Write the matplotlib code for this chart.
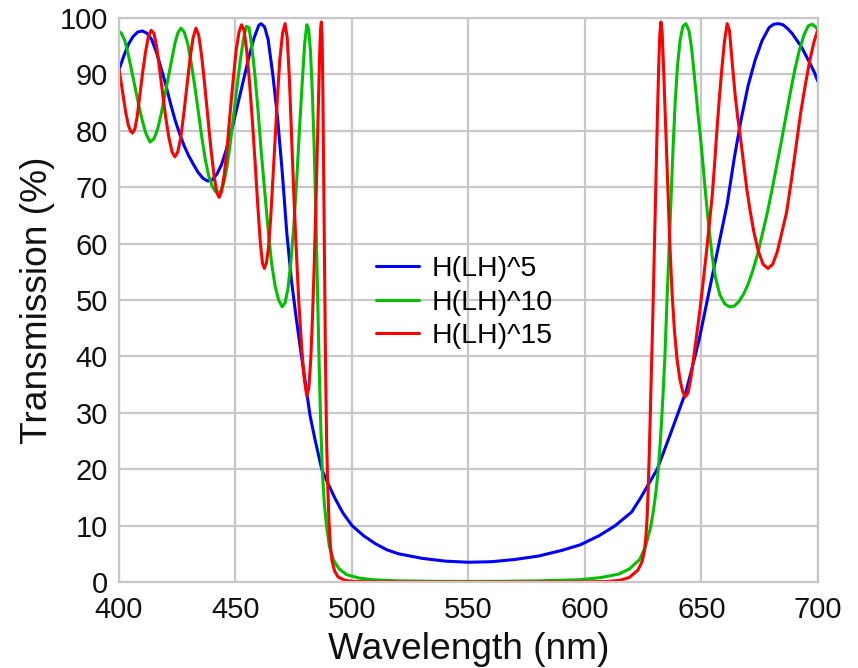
import matplotlib
matplotlib.use("Agg")
import matplotlib.pyplot as plt

plt.rcParams['font.family'] = ['Liberation Sans', 'DejaVu Sans']

# ---------------- data ----------------
series_labels = ["H(LH)^5", "H(LH)^10", "H(LH)^15"]
x_ticks = [400, 450, 500, 550, 600, 650, 700]
y_ticks = [0, 10, 20, 30, 40, 50, 60, 70, 80, 90, 100]

# (wavelength nm, transmission %)
blue_points = [
    (400, 90.8), (402, 93.2), (404, 95.3), (406, 96.7), (408, 97.5), (410, 97.7),
    (412, 97.3), (414, 96.2), (416, 94), (418, 91.2), (420, 88.3), (422, 85),
    (424, 82), (426, 79.5), (428, 77.3), (430, 75.5), (432, 74), (434, 72.6),
    (436, 71.6), (438, 71.1), (440, 71.3), (442, 72.3), (444, 74), (446, 76.6),
    (448, 79.5), (450, 83), (452, 86.5), (454, 90), (456, 93.5), (458, 96.5),
    (460, 98.7), (461, 99), (462.5, 98.4), (464, 96.2), (466, 90), (468, 82.5),
    (470, 73), (472, 62), (474, 53.5), (476, 47), (478, 41), (480.6, 33.5),
    (482, 29.5), (484, 25.5), (487, 20), (490, 17.2), (492.5, 15), (496, 12.3),
    (500, 10), (505, 8.2), (510, 6.8), (515, 5.7), (520, 5.0), (530, 4.2),
    (540, 3.7), (550, 3.5), (560, 3.6), (570, 4.0), (580, 4.6), (590, 5.6),
    (598, 6.6), (606, 8.2), (613, 10), (620, 12.4), (624, 15), (631, 20),
    (636, 25.5), (640, 30), (643.5, 34), (646, 38), (649, 43), (651.5, 48),
    (654, 53), (656, 57), (658, 61), (661, 67), (664, 75), (667, 82), (670, 88),
    (673, 92.5), (676, 96), (679, 98.3), (681, 98.9), (683, 99), (685, 98.8),
    (687, 98.1), (689, 97.2), (691, 96), (693, 94.8), (695, 93.2), (697, 91.6),
    (698.5, 90.3), (700, 88.7),
]

green_points = [
    (400, 97.6), (401, 97.3), (402.5, 96), (404, 93.5), (405.5, 90.5), (407, 87.5),
    (408.5, 84.5), (410, 81.8), (411.5, 79.6), (413.3, 78), (415, 78.6),
    (416.5, 80.2), (418, 82.8), (419.5, 86), (421, 89.3), (422.5, 92.5),
    (424, 95.5), (425.3, 97.4), (426.6, 98.2), (428, 97.5), (429.5, 95.5),
    (431, 92), (432.5, 88), (434, 83.5), (435.5, 79), (437, 75), (438.5, 72),
    (440, 70.2), (441.3, 69.3), (442.5, 69), (443.8, 69.4), (445, 70.8),
    (446.3, 73.5), (447.6, 77.3), (449, 82), (450.5, 87.3), (452, 92.3),
    (453.3, 96), (454.6, 98.5), (455.8, 98.3), (457, 95), (458.3, 90),
    (459.7, 83.5), (461, 76.5), (462.5, 69.5), (464, 62.5), (465.5, 56.5),
    (467, 52.5), (468.5, 50), (470, 48.8), (471.3, 49.5), (472.5, 52),
    (473.7, 56.5), (475, 63), (476.3, 71.5), (477.5, 80.5), (478.7, 89),
    (479.7, 95.5), (480.6, 98.8), (481.4, 98), (482.2, 94), (483, 86.5),
    (483.8, 76.5), (484.5, 65), (485.2, 51.5), (485.9, 38.5), (486.6, 27.5),
    (487.3, 19.5), (488.1, 14), (489.1, 9.8), (490.3, 6.3), (492, 3.9),
    (494.5, 2.3), (497.7, 1.3), (503, 0.7), (509, 0.4), (520, 0.2), (535, 0.12),
    (550, 0.1), (565, 0.12), (580, 0.2), (598, 0.4), (607, 0.8), (614.5, 1.4),
    (619, 2.3), (623.5, 4), (626, 6.3), (628.2, 9.8), (629.2, 12.2),
    (630.3, 15.5), (631.5, 20), (632.5, 26), (633.4, 32.5), (634.3, 40),
    (635.1, 49), (636, 58.5), (636.9, 68), (637.8, 77), (638.7, 85),
    (639.7, 91.5), (640.8, 96), (642, 98.5), (643.3, 99), (644.6, 97.8),
    (645.8, 94.5), (647, 89.5), (648.5, 83), (650, 77), (651.5, 70),
    (653, 63.5), (654.5, 58), (656, 54), (657.8, 51), (660, 49.3), (662, 48.8),
    (664, 48.9), (666, 49.7), (668, 51), (670, 52.8), (672, 55.2), (674, 58),
    (676, 61.5), (678, 65), (680, 69), (682, 73.2), (684, 77.5), (686, 82),
    (688, 86.5), (690, 90.7), (692, 94.3), (694, 97), (695.8, 98.6),
    (697.5, 98.9), (699, 98.4), (700, 97.8),
]

red_points = [
    (400, 91), (401, 88.3), (402, 85.5), (403, 83), (404, 81), (405, 79.9),
    (405.8, 79.6), (406.8, 80.3), (407.8, 82.5), (409, 86.5), (410.2, 90.5),
    (411.4, 94), (412.6, 96.7), (413.8, 97.8), (415, 97.3), (416.2, 94.8),
    (417.4, 91), (418.6, 87), (420, 82.5), (421.4, 78.8), (422.8, 76.2),
    (424, 75.4), (425.2, 76.2), (426.5, 78.8), (427.8, 83), (429.2, 88),
    (430.5, 92.8), (431.8, 96.5), (433, 98.2), (434.2, 97), (435.4, 93.5),
    (436.7, 88.5), (438, 83), (439.4, 77), (440.8, 72), (442, 69), (443, 68.2),
    (444, 69.2), (445.2, 72.3), (446.4, 77), (447.7, 83.2), (449, 89),
    (450.3, 94.3), (451.5, 97.5), (452.6, 98.8), (453.7, 97.8), (454.8, 94.2),
    (456, 88.7), (457.2, 82), (458.4, 74.5), (459.6, 66.5), (460.7, 60),
    (461.6, 56.5), (462.4, 55.6), (463.3, 56.6), (464.2, 59.5), (465.1, 64.5),
    (466, 71), (467, 78.5), (468, 86), (469, 92.5), (470.2, 97.3), (471.3, 99),
    (472.2, 96.5), (473.1, 89.5), (474, 80), (474.9, 70), (476, 59.5),
    (477.2, 49.5), (478.4, 41.5), (479.5, 36), (480.6, 33), (481.5, 34.5),
    (482.3, 39.5), (483, 46.5), (483.7, 55), (484.4, 65), (485, 75),
    (485.6, 85), (486.1, 93.5), (486.5, 98), (486.85, 99.3), (487.2, 96),
    (487.5, 87), (487.85, 72), (488.2, 55), (488.6, 40), (489.1, 25),
    (489.6, 17), (490.1, 11), (490.7, 6.5), (491.4, 3.8), (492.5, 2), (494, 0.9),
    (497, 0.3), (500.5, 0.1), (510, 0.03), (550, 0.0), (600, 0.03), (610, 0.1),
    (615, 0.3), (619, 0.8), (622.7, 2.1), (624.5, 3.6), (625.5, 5.5),
    (626.1, 7.8), (626.6, 11), (627.1, 16), (627.6, 23), (628.1, 31),
    (628.6, 39), (629.1, 47), (629.6, 56), (630.1, 65), (630.6, 74),
    (631.1, 83), (631.6, 91), (632.1, 97), (632.6, 99.3), (633.1, 97.5),
    (633.6, 92.5), (634.2, 85.5), (634.9, 77), (635.7, 67.5), (636.5, 59),
    (637.4, 51), (638.4, 44.5), (639.5, 39.5), (640.7, 36), (641.9, 33.8),
    (643, 32.8), (644.2, 33.5), (645.4, 36), (646.7, 40), (648, 44),
    (649.4, 48.5), (650.8, 53.5), (652.2, 58.8), (653.5, 64), (654.6, 68.5),
    (655.6, 74), (656.6, 80), (657.7, 86), (658.8, 91.3), (659.9, 96),
    (661, 99), (662, 97.8), (663.2, 92), (664.4, 86.5), (665.5, 82.5),
    (666.5, 79.5), (668, 74.5), (669.5, 69.5), (670.8, 66), (672.5, 62),
    (674.5, 58.5), (676.5, 56.3), (678.5, 55.6), (680.5, 56.3), (682.5, 58.5),
    (684.5, 62), (686.5, 65.5), (688.5, 71), (690.5, 77), (692.5, 83),
    (694.5, 88), (696.5, 92.5), (698.3, 95.8), (700, 98),
]

colors = ["#0000ff", "#00c000", "#ff0000"]

# ---------------- figure ----------------
fig = plt.figure(figsize=(8.58, 6.68), dpi=100)
ax = fig.add_axes([119 / 858, 1 - 582 / 668, (818 - 119) / 858, (582 - 18) / 668])

for pts, c, lab in zip([blue_points, green_points, red_points], colors, series_labels):
    wl, t = zip(*pts)
    ax.plot(wl, t, color=c, lw=2.2, label=lab, solid_joinstyle='round',
            solid_capstyle='round')

ax.set_xlim(400, 700)
ax.set_ylim(0, 100)
ax.set_xticks(x_ticks)
ax.set_yticks(y_ticks)
ax.grid(True, color='#c8c8c8', lw=1.6)
ax.set_axisbelow(True)
for s in ax.spines.values():
    s.set_color('#c8c8c8')
    s.set_linewidth(1.6)
ax.tick_params(axis='both', length=0, labelsize=21, colors='#111111')
ax.tick_params(axis='x', pad=10)
ax.tick_params(axis='y', pad=8)

ax.set_xlabel('Wavelength (nm)', fontsize=26.7, labelpad=6, color='#111111')
ax.set_ylabel('Transmission (%)', fontsize=26.7, labelpad=3, color='#111111')

leg = ax.legend(loc='upper left', bbox_to_anchor=(376 / 858, 1 - 256 / 668),
                bbox_transform=fig.transFigure, frameon=False, fontsize=20.5,
                handlelength=1.5, handletextpad=0.45, labelspacing=0.27,
                borderpad=0, borderaxespad=0)

fig.savefig('out.png', dpi=100)
